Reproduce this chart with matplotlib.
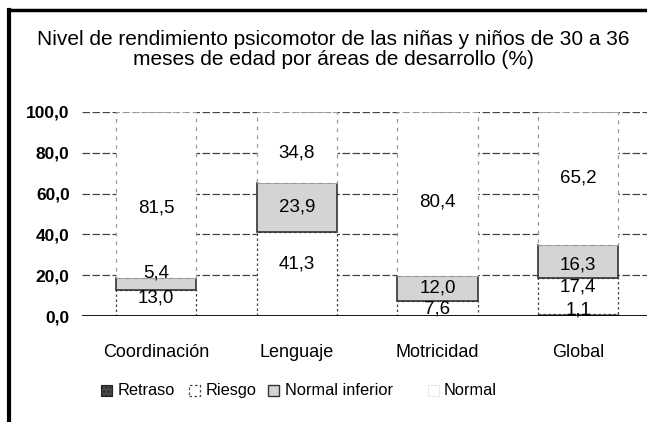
import matplotlib
matplotlib.use("Agg")
import matplotlib.pyplot as plt
from matplotlib.lines import Line2D
from matplotlib.patches import Rectangle
import numpy as np

plt.rcParams['font.family'] = ['Liberation Sans', 'DejaVu Sans']
plt.rcParams['hatch.color'] = '#999999'

title = "Nivel de rendimiento psicomotor de las niñas y niños de 30 a 36\nmeses de edad por áreas de desarrollo (%)"
categories = ["Coordinación", "Lenguaje", "Motricidad", "Global"]
series = ["Retraso", "Riesgo", "Normal inferior", "Normal"]
retraso = [0.0, 0.0, 0.0, 1.1]
riesgo = [13.0, 41.3, 7.6, 17.4]
normal_inf = [5.4, 23.9, 12.0, 16.3]
normal = [81.5, 34.8, 80.4, 65.2]
yticks = [0, 20, 40, 60, 80, 100]

# label offsets (layout only, data units relative to segment middle)
label_shift = {
    (0, 1): 2.3, (0, 2): 5.3, (0, 3): -6.0,
    (1, 1): 5.0, (1, 3): -2.6,
    (2, 1): -0.4, (2, 3): -4.0,
    (3, 0): 2.5, (3, 1): 4.5, (3, 2): -1.6, (3, 3): 0.0,
}

fig = plt.figure(figsize=(6.47, 4.22), dpi=100)
ax = fig.add_axes([0.127, 0.251, 0.873, 0.484])
x = np.arange(len(categories))
w = 0.57

for yv in yticks[1:]:
    ax.axhline(yv, color='#444444', lw=0.9, ls=(0, (6, 2)), zorder=0)

data = [retraso, riesgo, normal_inf, normal]
styles = [
    dict(facecolor='#4a4a4a', edgecolor='#222222', linewidth=0.8, linestyle='-', hatch='....'),
    dict(facecolor='white', edgecolor='#444444', linewidth=0.9, linestyle=(0, (2, 2))),
    dict(facecolor='#d4d4d4', edgecolor='#333333', linewidth=1.2, linestyle='-'),
    dict(facecolor='white', edgecolor='#999999', linewidth=0.9, linestyle=(0, (3, 4))),
]
bottom = np.zeros(len(categories))
for si, vals in enumerate(data):
    vals = np.array(vals)
    ax.bar(x, vals, w, bottom=bottom, zorder=2, **styles[si])
    for ci, v in enumerate(vals):
        if v > 0:
            yc = bottom[ci] + v / 2 + label_shift.get((ci, si), 0.0)
            ax.text(x[ci], yc, f"{v:.1f}".replace('.', ','), ha='center', va='center',
                    fontsize=13.5, zorder=4)
    bottom += vals

ax.axhline(0, color='black', lw=2.0, zorder=5)
ax.set_xlim(-0.526, 3.49)
ax.set_ylim(0, 100)
ax.set_yticks(yticks)
ax.set_yticklabels([f"{t:.1f}".replace('.', ',') for t in yticks],
                   fontsize=12.5, fontweight='bold')
ax.set_xticks(x)
ax.set_xticklabels(categories, fontsize=13)
ax.tick_params(axis='both', length=0)
ax.tick_params(axis='y', pad=9)
ax.tick_params(axis='x', pad=20)
for s in ax.spines.values():
    s.set_visible(False)

fig.text(0.515, 0.883, title, ha='center', va='center', fontsize=15, linespacing=1.05)

# manual legend (pixel layout)
W, H = 647.0, 422.0
leg_base = 395
handle_x = [101, 189, 268, 428]
text_x = [118, 206, 285, 444]
handle_styles = [
    dict(facecolor='#4a4a4a', edgecolor='#222222', hatch='....', lw=0.8),
    dict(facecolor='white', edgecolor='#444444', linestyle=(0, (2, 2)), lw=0.9),
    dict(facecolor='#d4d4d4', edgecolor='#333333', lw=1.0),
    dict(facecolor='white', edgecolor='#dddddd', lw=0.5),
]
for hx, tx, lab, st in zip(handle_x, text_x, series, handle_styles):
    fig.add_artist(Rectangle((hx / W, 1 - (leg_base + 1) / H), 11 / W, 11 / H,
                             transform=fig.transFigure, **st))
    fig.text(tx / W, 1 - leg_base / H, lab, ha='left', va='baseline', fontsize=11.8)

fig.add_artist(Line2D([0.014, 0.014], [0.0, 0.977], color='black', lw=3, transform=fig.transFigure))
fig.add_artist(Line2D([0.014, 1.0], [0.977, 0.977], color='black', lw=2.5, transform=fig.transFigure))

fig.savefig('out.png', dpi=100, facecolor='white')
